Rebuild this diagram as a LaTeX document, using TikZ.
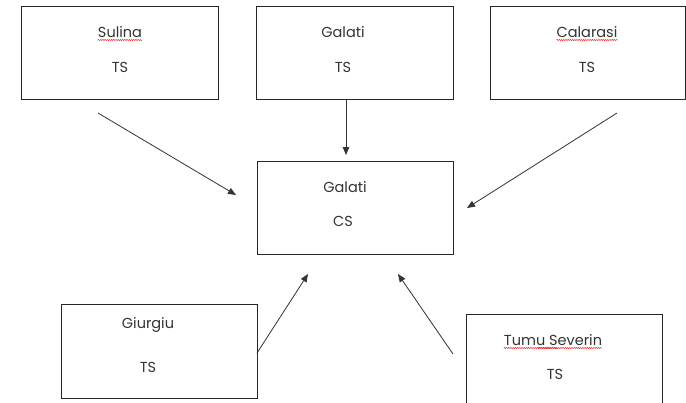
\documentclass[tikz,border=0pt]{standalone}
\usepackage{fontspec}
\setmainfont{Poppins}
\usetikzlibrary{arrows.meta,decorations.pathmorphing}
\begin{document}
\begin{tikzpicture}[x=1pt,y=-1pt,
  box/.style={draw=black!85,line width=0.9pt,rectangle,inner sep=0pt},
  lbl/.style={font=\fontsize{14.5}{16}\selectfont,text=black!80,inner sep=0pt,anchor=base},
  conn/.style={draw=black!80,line width=0.8pt,-{Triangle[length=8pt,width=6.5pt]}},
  squig/.style={draw=red!85,line width=0.5pt,decorate,decoration={snake,amplitude=0.6pt,segment length=2.2pt}}]
\useasboundingbox (0,0) rectangle (686,402);
\clip (0,0) rectangle (686,402);
\fill[white] (0,0) rectangle (686,402);
% boxes
\draw[box] (21,6) rectangle (218,99);
\draw[box] (256,6) rectangle (453,99);
\draw[box] (490,6) rectangle (685,99);
\draw[box] (257,161) rectangle (453,254);
\draw[box] (61,304) rectangle (257,398);
\draw[box] (466,314) rectangle (662,410);
% labels
\node[lbl] (tSul) at (120,37) {Sulina};
\node[lbl] (sSul) at (120,72) {TS};
\node[lbl] (tGalT) at (343,37) {Galati};
\node[lbl] (sGalT) at (343,72) {TS};
\node[lbl] (tCal) at (587,37) {Calarasi};
\node[lbl] (sCal) at (587,72) {TS};
\node[lbl] (tGalC) at (345,192) {Galati};
\node[lbl] (sGalC) at (343,226) {CS};
\node[lbl] (tGiu) at (148,328) {Giurgiu};
\node[lbl] (sGiu) at (148,372) {TS};
\node[lbl] (tTum) at (553,345) {Tumu Severin};
\node[lbl] (sTum) at (555,379) {TS};
% spell-check squiggles
\draw[squig] (tSul.base west) ++(0,3) -- (tSul.base east |- 0,40);
\draw[squig] (tCal.base west) ++(0,3) -- (tCal.base east |- 0,40);
\draw[squig] (tTum.base west) ++(0,3) -- ++(54,0);
\draw[squig] (tTum.base east) ++(-64,3) -- ++(64,0);
% connector end points
\coordinate (a1) at (98,113);  \coordinate (b1) at (236,195);
\coordinate (a2) at (346,99);  \coordinate (b2) at (346,155);
\coordinate (a3) at (617,113); \coordinate (b3) at (467,208);
\coordinate (a4) at (257,353); \coordinate (b4) at (308,274);
\coordinate (a5) at (453,354); \coordinate (b5) at (398,274);
\draw[conn] (a1) -- (b1);
\draw[conn] (a2) -- (b2);
\draw[conn] (a3) -- (b3);
\draw[conn] (a4) -- (b4);
\draw[conn] (a5) -- (b5);
\end{tikzpicture}
\end{document}
